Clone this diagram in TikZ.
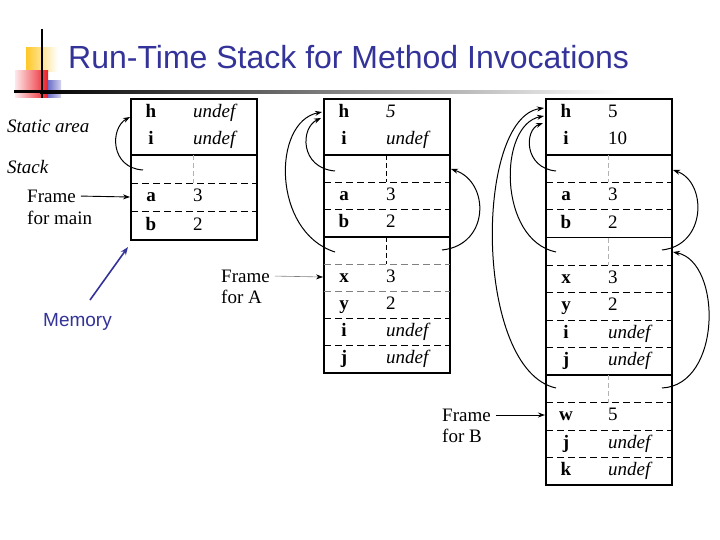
\documentclass[tikz,border=0pt]{standalone}
\usepackage{fontspec}
\setmainfont{Liberation Serif}
\setsansfont{Liberation Sans}
\usepackage{xcolor}
\usepackage{tikz}
\usetikzlibrary{arrows.meta}

\definecolor{titleblue}{RGB}{51,51,153}
\definecolor{logoyellow}{RGB}{255,200,40}
\definecolor{logored}{RGB}{235,30,40}
\definecolor{logoblue}{RGB}{110,110,200}

\begin{document}
\begin{tikzpicture}[x=1pt, y=-1pt,
    box/.style={draw, line width=1.2pt},
    framesep/.style={line width=1.5pt},
    slotsep/.style={line width=1pt, dash pattern=on 7pt off 4pt},
    linkdiv/.style={line width=0.8pt, dash pattern=on 5pt off 3pt, gray!60},
    varname/.style={font=\fontsize{19}{22}\selectfont\bfseries, inner sep=0pt, text height=13pt, text depth=4pt},
    varval/.style={font=\fontsize{19}{22}\selectfont, anchor=west, inner sep=0pt, text height=13pt, text depth=4pt},
    lbl/.style={font=\fontsize{19}{22}\selectfont, anchor=west, inner sep=1pt},
    link/.style={-{Stealth[length=7pt, width=5pt]}, line width=1pt},
    pointer/.style={-{Stealth[length=7pt, width=5pt, color=black]}, line width=0.9pt, shorten <=4pt}
]

\useasboundingbox (0,0) rectangle (720,540);
\fill[white] (0,0) rectangle (720,540);

% slide logo and title
\shade[left color=logoyellow, right color=white] (26,48) rectangle (58,72);
\shade[left color=logored!10, right color=logored] (15,71) rectangle (48,98);
\shade[left color=logoblue, right color=logoblue!30] (48,81) rectangle (61,98);
\fill[black] (14,90.5) rectangle (40,93.5);
\shade[left color=black, right color=white] (40,90.5) rectangle (620,93.5);
\draw[line width=2.5pt] (42,29) -- (42,98);
\node[font=\fontsize{32}{36}\selectfont\sffamily, text=titleblue, anchor=base west, inner sep=0pt] (title) at (68,69) {Run-Time Stack for Method Invocations};

% stack 1: main only
\draw[box] (131,99) rectangle (257,240);
\draw[framesep] (131,155) -- (257,155);
\foreach \y in {183.3, 211.6} \draw[slotsep] (131,\y) -- (257,\y);
\draw[linkdiv] (193,155) -- (193,183.3);
\node[varname] (s1h) at (151,113) {h};
\node[varval] (s1hv) at (193,113) {\itshape undef};
\node[varname] (s1i) at (151,140) {i};
\node[varval] (s1iv) at (193,140) {\itshape undef};
\node[varname] (s1a) at (151,197.5) {a};
\node[varval] (s1av) at (193,197.5) {3};
\node[varname] (s1b) at (151,226) {b};
\node[varval] (s1bv) at (193,226) {2};

\node[lbl, font=\fontsize{19}{22}\selectfont\itshape] (static) at (6,126) {Static area};
\node[lbl, font=\fontsize{19}{22}\selectfont\itshape] (stack) at (6,167) {Stack};
\node[lbl] (mainfr) at (26,196) {Frame};
\node[lbl] (mainfor) at (26,218) {for main};

\coordinate (s1link) at (143,170);
\coordinate (s1top) at (130,117);
\coordinate (s1in) at (130,197);
\draw[link] (s1link) .. controls (110,168) and (110,128) .. (s1top);
\draw[pointer] (mainfr.east) -- (s1in);

% memory pointer
\node[lbl, font=\fontsize{19}{22}\selectfont\sffamily, text=titleblue] (memory) at (42,322) {Memory};
\coordinate (memtail) at (90,300);
\coordinate (memtip) at (128,247);
\draw[-{Stealth[length=8pt, width=6pt]}, line width=1.6pt, titleblue] (memtail) -- (memtip);

% stack 2: main calls A
\draw[box] (324,99) rectangle (450,373);
\draw[framesep] (324,155) -- (450,155);
\draw[framesep] (324,236.75) -- (450,236.75);
\foreach \y in {182.25, 209.5, 318.5, 345.75} \draw[slotsep] (324,\y) -- (450,\y);
\foreach \y in {264, 291.25} \draw[slotsep, gray] (324,\y) -- (450,\y);
\draw[linkdiv, black] (386,155) -- (386,182.25);
\draw[linkdiv, black] (386,236.75) -- (386,264);
\node[varname] (s2h) at (344,113) {h};
\node[varval] (s2hv) at (386,113) {\itshape 5};
\node[varname] (s2i) at (344,140) {i};
\node[varval] (s2iv) at (386,140) {\itshape undef};
\node[varname] (s2a) at (344,195.9) {a};
\node[varval] (s2av) at (386,195.9) {3};
\node[varname] (s2b) at (344,223.1) {b};
\node[varval] (s2bv) at (386,223.1) {2};
\node[varname] (s2x) at (344,277.6) {x};
\node[varval] (s2xv) at (386,277.6) {3};
\node[varname] (s2y) at (344,304.9) {y};
\node[varval] (s2yv) at (386,304.9) {2};
\node[varname] (s2i2) at (344,332.1) {i};
\node[varval] (s2i2v) at (386,332.1) {\itshape undef};
\node[varname] (s2j) at (344,359.4) {j};
\node[varval] (s2jv) at (386,359.4) {\itshape undef};

\node[lbl] (afr) at (220,276) {Frame};
\node[lbl] (afor) at (220,297) {for A};

\coordinate (s2link) at (335,171);
\coordinate (s2linka) at (335,252);
\coordinate (s2linkb) at (442,250);
\coordinate (s2topa) at (321,118);
\coordinate (s2topb) at (322,112);
\coordinate (s2main) at (451,169);
\coordinate (s2in) at (323,277);
\draw[link] (s2link) .. controls (300,168) and (300,128) .. (s2topa);
\draw[link] (s2linka) .. controls (272,232) and (272,122) .. (s2topb);
\draw[link] (s2linkb) .. controls (490,245) and (490,182) .. (s2main);
\draw[pointer, gray, line width=0.6pt] (afr.east) -- (s2in);

% stack 3: A calls B
\draw[box] (546,99) rectangle (672,485);
\draw[framesep] (546,155) -- (672,155);
\draw[framesep] (546,237.5) -- (672,237.5);
\draw[framesep] (546,375) -- (672,375);
\foreach \y in {182.5, 210, 265, 292.5, 320, 347.5, 402.5, 430, 457.5} \draw[slotsep] (546,\y) -- (672,\y);
\draw[linkdiv] (608,155) -- (608,182.5);
\draw[linkdiv] (608,237.5) -- (608,265);
\draw[linkdiv] (608,375) -- (608,402.5);
\node[varname] (s3h) at (566,113) {h};
\node[varval] (s3hv) at (608,113) {5};
\node[varname] (s3i) at (566,140) {i};
\node[varval] (s3iv) at (608,140) {10};
\node[varname] (s3a) at (566,196.2) {a};
\node[varval] (s3av) at (608,196.2) {3};
\node[varname] (s3b) at (566,223.7) {b};
\node[varval] (s3bv) at (608,223.7) {2};
\node[varname] (s3x) at (566,278.7) {x};
\node[varval] (s3xv) at (608,278.7) {3};
\node[varname] (s3y) at (566,306.2) {y};
\node[varval] (s3yv) at (608,306.2) {2};
\node[varname] (s3i2) at (566,333.7) {i};
\node[varval] (s3i2v) at (608,333.7) {\itshape undef};
\node[varname] (s3j) at (566,361.2) {j};
\node[varval] (s3jv) at (608,361.2) {\itshape undef};
\node[varname] (s3w) at (566,416.2) {w};
\node[varval] (s3wv) at (608,416.2) {5};
\node[varname] (s3j2) at (566,443.7) {j};
\node[varval] (s3j2v) at (608,443.7) {\itshape undef};
\node[varname] (s3k) at (566,471.2) {k};
\node[varval] (s3kv) at (608,471.2) {\itshape undef};

\node[lbl] (bfr) at (441,415) {Frame};
\node[lbl] (bfor) at (441,436) {for B};

\coordinate (s3link) at (556,171);
\coordinate (s3linka) at (556,252);
\coordinate (s3linkb) at (556,388);
\coordinate (s3linkc) at (662,250);
\coordinate (s3linkd) at (662,388);
\coordinate (s3topa) at (543,123);
\coordinate (s3topb) at (544,116);
\coordinate (s3topc) at (544,108);
\coordinate (s3main) at (673,170);
\coordinate (s3afr) at (673,252);
\coordinate (s3in) at (545,415);
\draw[link] (s3link) .. controls (524,168) and (524,130) .. (s3topa);
\draw[link] (s3linka) .. controls (498,240) and (498,125) .. (s3topb);
\draw[link] (s3linkb) .. controls (474,370) and (474,118) .. (s3topc);
\draw[link] (s3linkc) .. controls (707,245) and (707,182) .. (s3main);
\draw[link] (s3linkd) .. controls (722,385) and (722,262) .. (s3afr);
\draw[pointer] (bfr.east) -- (s3in);

\end{tikzpicture}
\end{document}
